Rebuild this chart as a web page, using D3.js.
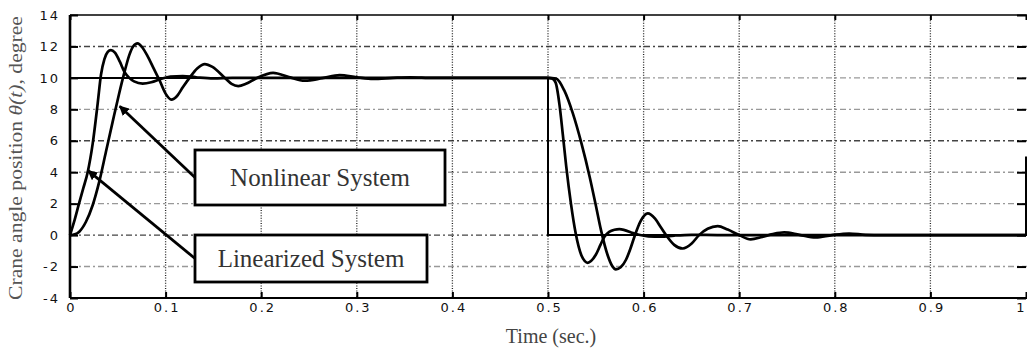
<!DOCTYPE html>
<html>
<head>
<meta charset="utf-8">
<script src="https://cdn.jsdelivr.net/npm/d3@7"></script>
<style>
  html, body { margin: 0; padding: 0; background: #fff; }
  svg { display: block; }
</style>
</head>
<body>
<svg id="chart" width="1027" height="349"></svg>
<script>
// values: time (s) vs crane angle (degree)
const xTickValues = [0, 0.1, 0.2, 0.3, 0.4, 0.5, 0.6, 0.7, 0.8, 0.9, 1];
const xTickLabels = ['0', '0.1', '0.2', '0.3', '0.4', '0.5', '0.6', '0.7', '0.8', '0.9', '1'];
const yTickValues = [-4, -2, 0, 2, 4, 6, 8, 10, 12, 14];
const yTickLabels = ['-4', '-2', '0', '2', '4', '6', '8', '10', '12', '14'];

// desired angle (square step)
const referenceStep = [[0, 0], [0, 10], [0.5, 10], [0.5, 0], [1, 0], [1, 5]];

const linearized = [
  [0, 0], [0.005, 1.0], [0.0094, 2.0], [0.014, 3.0], [0.0185, 4.0], [0.0237, 5.8],
  [0.029, 8.4], [0.0324, 10.2], [0.036, 11.2], [0.0395, 11.65], [0.0428, 11.77],
  [0.047, 11.6], [0.052, 11.05], [0.0568, 10.4], [0.062, 10.0], [0.067, 9.78],
  [0.076, 9.64], [0.085, 9.72], [0.095, 9.93], [0.105, 10.08], [0.118, 10.12],
  [0.132, 10.04], [0.15, 9.97], [0.17, 10.0], [0.5, 10],
  [0.504, 9.97], [0.508, 9.7], [0.512, 8.3], [0.5155, 6.4], [0.519, 4.4], [0.524, 2.0],
  [0.529, 0.1], [0.535, -1.3], [0.5385, -1.65], [0.5415, -1.76], [0.545, -1.65],
  [0.55, -1.25], [0.555, -0.6], [0.559, -0.1], [0.564, 0.2], [0.5695, 0.34],
  [0.5747, 0.38], [0.58, 0.32], [0.587, 0.17], [0.595, 0.02], [0.605, -0.08],
  [0.618, -0.1], [0.632, -0.03], [0.65, 0.02], [0.68, 0], [1, 0]
];

const nonlinear = [
  [0, 0], [0.005, 0.05], [0.0097, 0.22], [0.0167, 0.85], [0.0237, 1.9], [0.0306, 3.4],
  [0.0376, 5.3], [0.0446, 7.2], [0.051, 8.9], [0.0567, 10.3], [0.062, 11.45],
  [0.066, 12.0], [0.0707, 12.2], [0.0755, 11.95], [0.081, 11.4], [0.0875, 10.6],
  [0.094, 9.8], [0.1, 9.0], [0.106, 8.62], [0.112, 8.85], [0.118, 9.4], [0.125, 10.0],
  [0.133, 10.6], [0.141, 10.88], [0.149, 10.7], [0.162, 10.0], [0.169, 9.62],
  [0.176, 9.48], [0.184, 9.62], [0.195, 9.98], [0.2125, 10.32], [0.229, 10.05],
  [0.2455, 9.82], [0.264, 9.98], [0.282, 10.18], [0.3, 10.04], [0.317, 9.93],
  [0.338, 10.0], [0.356, 10.04], [0.38, 10.0], [0.5, 10],
  [0.5085, 9.95], [0.517, 9.2], [0.526, 7.74], [0.535, 5.83], [0.5436, 3.7],
  [0.55, 1.9], [0.5555, 0.3], [0.5625, -1.3], [0.567, -1.95], [0.571, -2.18],
  [0.576, -2.05], [0.5817, -1.55], [0.586, -0.9], [0.5904, -0.1], [0.597, 0.9],
  [0.6043, 1.38], [0.612, 1.05], [0.618, 0.5], [0.6235, 0], [0.632, -0.62],
  [0.641, -0.85], [0.65, -0.55], [0.658, 0], [0.667, 0.4], [0.6775, 0.57],
  [0.688, 0.35], [0.7, 0], [0.712, -0.27], [0.724, -0.12], [0.735, 0.06],
  [0.747, 0.17], [0.763, 0.02], [0.78, -0.15], [0.797, 0], [0.815, 0.1],
  [0.832, 0.02], [0.85, 0], [1, 0]
];

// callouts: label text and the curve point each arrow touches
const callouts = [
  { label: 'Nonlinear System', tip: [0.052, 8.2], box: [195, 150, 250, 55] },
  { label: 'Linearized System', tip: [0.019, 4.1], box: [195, 235, 232, 47] }
];

const svg = d3.select('#chart');
const W = 1027, H = 349;
const L = 70, R = 1026, T = 15, B = 298;
const serif = '"Liberation Serif", "Times New Roman", serif';

const x = d3.scaleLinear().domain([0, 1]).range([L, R]);
const y = d3.scaleLinear().domain([-4, 14]).range([B, T]);

// grid
const grid = svg.append('g');
grid.selectAll('line.h')
  .data(yTickValues.filter(v => v > -4 && v < 14))
  .enter().append('line')
  .attr('x1', L).attr('x2', W + 5)
  .attr('y1', d => y(d)).attr('y2', d => y(d))
  .attr('stroke', d => (d === 12 || d === 6 || d === 0) ? '#444' : '#999')
  .attr('stroke-width', 1.4)
  .attr('stroke-dasharray', '6,3,2,3');

grid.selectAll('line.v')
  .data(xTickValues.filter(v => v > 0 && v < 1))
  .enter().append('line')
  .attr('x1', d => x(d)).attr('x2', d => x(d))
  .attr('y1', T).attr('y2', B)
  .attr('stroke', '#222')
  .attr('stroke-width', 1.3)
  .attr('stroke-dasharray', '1,1.6');

// curves
const stepLine = d3.line().x(d => x(d[0])).y(d => y(d[1]));
const smooth = d3.line().x(d => x(d[0])).y(d => y(d[1])).curve(d3.curveMonotoneX);

svg.append('path').datum(referenceStep)
  .attr('d', stepLine).attr('fill', 'none')
  .attr('stroke', '#000').attr('stroke-width', 2);

[linearized, nonlinear].forEach(s => {
  svg.append('path').datum(s)
    .attr('d', smooth).attr('fill', 'none')
    .attr('stroke', '#000').attr('stroke-width', 2.7)
    .attr('stroke-linejoin', 'round');
});

// arrow marker
svg.append('defs').append('marker')
  .attr('id', 'arrow')
  .attr('viewBox', '0 -5 10 10')
  .attr('refX', 9).attr('refY', 0)
  .attr('markerWidth', 10).attr('markerHeight', 10)
  .attr('markerUnits', 'userSpaceOnUse')
  .attr('orient', 'auto')
  .append('path').attr('d', 'M0,-5L10,0L0,5Z').attr('fill', '#000');

const cg = svg.append('g');
callouts.forEach(c => {
  const [bx, by, bw, bh] = c.box;
  cg.append('line')
    .attr('x1', bx).attr('y1', by + bh / 2)
    .attr('x2', x(c.tip[0])).attr('y2', y(c.tip[1]))
    .attr('stroke', '#000').attr('stroke-width', 2.8)
    .attr('marker-end', 'url(#arrow)');
  cg.append('rect')
    .attr('x', bx).attr('y', by).attr('width', bw).attr('height', bh)
    .attr('fill', '#fff').attr('stroke', '#000').attr('stroke-width', 2.8);
  cg.append('text')
    .attr('x', bx + bw / 2).attr('y', by + bh / 2 + 8)
    .attr('text-anchor', 'middle')
    .attr('font-family', serif)
    .attr('font-size', 25)
    .attr('fill', '#333')
    .text(c.label);
});

// frame
const frame = svg.append('g').attr('stroke', '#000');
frame.append('line').attr('x1', L).attr('x2', W + 5).attr('y1', T).attr('y2', T).attr('stroke-width', 1.6);
frame.append('line').attr('x1', L).attr('x2', W + 5).attr('y1', B).attr('y2', B).attr('stroke-width', 2);
frame.append('line').attr('x1', L).attr('x2', L).attr('y1', T).attr('y2', B).attr('stroke-width', 2.6);

// axes (inside ticks)
const tickFont = '"DejaVu Sans", sans-serif';

const yAxis = svg.append('g').attr('transform', `translate(${L},0)`)
  .call(d3.axisLeft(y).tickValues(yTickValues).tickFormat((d, i) => yTickLabels[i])
    .tickSizeInner(-8).tickSizeOuter(0).tickPadding(12));
const yAxisR = svg.append('g').attr('transform', `translate(${R},0)`)
  .call(d3.axisRight(y).tickValues(yTickValues).tickSizeInner(-9).tickSizeOuter(0).tickFormat(''));
const xAxis = svg.append('g').attr('transform', `translate(0,${B})`)
  .call(d3.axisBottom(x).tickValues(xTickValues).tickFormat((d, i) => xTickLabels[i])
    .tickSizeInner(-6).tickSizeOuter(0).tickPadding(5));
const xAxisT = svg.append('g').attr('transform', `translate(0,${T})`)
  .call(d3.axisTop(x).tickValues(xTickValues).tickSizeInner(-5).tickSizeOuter(0).tickFormat(''));

[yAxis, yAxisR, xAxis, xAxisT].forEach(a => {
  a.select('.domain').remove();
  a.selectAll('.tick line').attr('stroke', '#000').attr('stroke-width', 2);
  a.selectAll('.tick text')
    .attr('font-family', tickFont)
    .attr('font-size', 13)
    .attr('letter-spacing', 2)
    .attr('fill', '#111');
});
yAxis.selectAll('.tick text').attr('dx', 2);
xAxis.selectAll('.tick text').attr('dx', 1);
// last label sits on the window edge; keep it inside
xAxis.selectAll('.tick text').filter(d => d === 1).attr('text-anchor', 'end').attr('dx', 0);

// axis titles
svg.append('text')
  .attr('x', (L + R) / 2 + 3).attr('y', 343)
  .attr('text-anchor', 'middle')
  .attr('font-family', serif)
  .attr('font-size', 20)
  .attr('fill', '#444')
  .text('Time  (sec.)');

const yl = svg.append('text')
  .attr('transform', 'translate(22,158) rotate(-90)')
  .attr('text-anchor', 'middle')
  .attr('font-family', serif)
  .attr('font-size', 19)
  .attr('textLength', 284)
  .attr('lengthAdjust', 'spacingAndGlyphs')
  .attr('fill', '#555');
yl.append('tspan').text('Crane angle position ');
yl.append('tspan').attr('font-style', 'italic').text('θ(t)');
yl.append('tspan').text(', degree');
</script>
</body>
</html>
